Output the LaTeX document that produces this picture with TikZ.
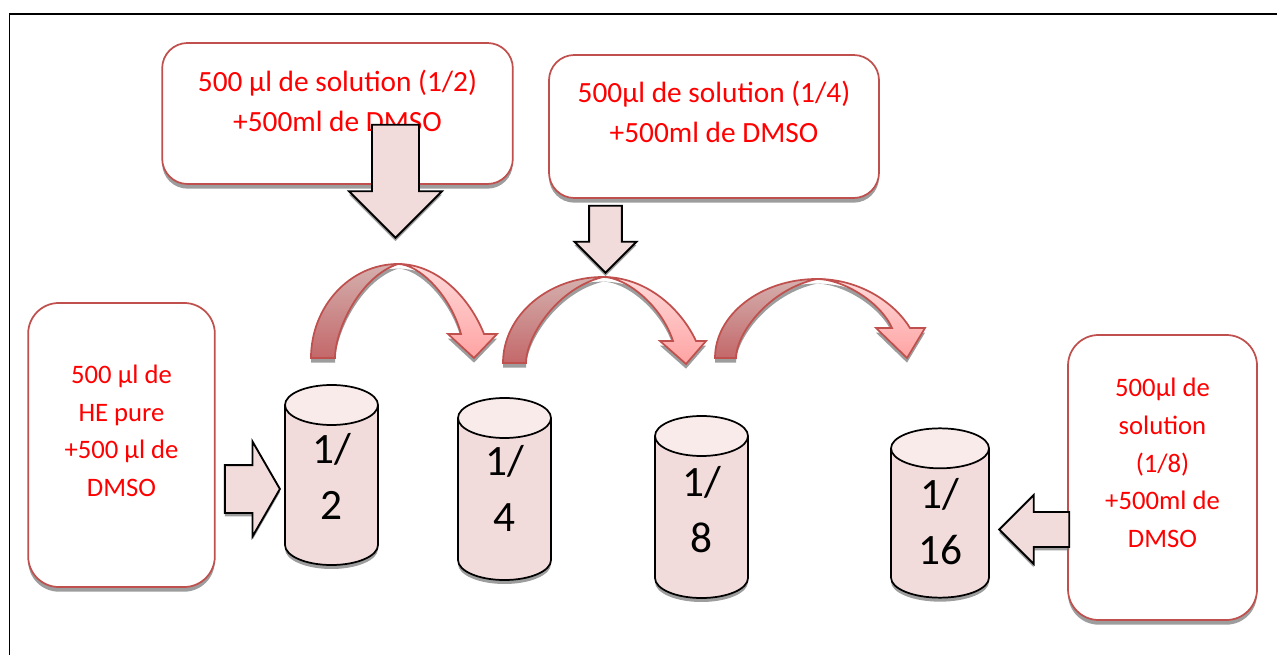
\documentclass[tikz,border=0pt]{standalone}
\usepackage{fontspec}
\setmainfont{Carlito}
\usepackage{tikz}
\usetikzlibrary{calc,positioning,shadows,shapes.geometric,shapes.arrows}
\definecolor{boxline}{HTML}{C0504D}
\definecolor{tube}{HTML}{F2DCDB}
\definecolor{tubetop}{HTML}{F8EBEA}
\definecolor{bendtop}{HTML}{D4B0AE}
\definecolor{bendfoot}{HTML}{C4686A}
\definecolor{headtop}{HTML}{FFDADA}
\definecolor{headfoot}{HTML}{FFA3A3}
\tikzstyle{box}=[
	 rectangle, draw=boxline, line width=1.3pt, fill=white,
	 inner sep=0pt,
	 drop shadow={shadow xshift=0pt,shadow yshift=-3.5pt,fill=black!55,opacity=.7}
    ]
\tikzstyle{boxtext}=[
	 text=red, align=center, inner sep=0pt,
	 font=\fontsize{22}{30}\selectfont
    ]
\tikzstyle{sidetext}=[
	 text=red, align=center, inner sep=0pt,
	 font=\fontsize{20}{28.2}\selectfont
    ]
\tikzstyle{tubeshape}=[
	 cylinder, shape border rotate=90, shape aspect=1.5,
	 inner sep=0pt, anchor=shape center, line width=1.3pt
    ]
\tikzstyle{tubenode}=[
	 tubeshape, draw=black,
	 cylinder uses custom fill, cylinder body fill=tube, cylinder end fill=tubetop
    ]
\tikzstyle{tubeshadow}=[
	 tubeshape, fill=black!55, opacity=.7
    ]
\tikzstyle{tubetext}=[
	 align=center, inner sep=0pt,
	 font=\fontsize{32.5}{42}\selectfont
    ]
\tikzstyle{blockarrow}=[
	 single arrow, draw=black, line width=1.4pt, fill=tube,
	 single arrow head indent=0pt,
	 drop shadow={shadow xshift=0pt,shadow yshift=-2.5pt,fill=black!55,opacity=.7}
    ]
\tikzstyle{bendarrow}=[
	 draw=boxline, line width=1.3pt,
	 drop shadow={shadow xshift=0pt,shadow yshift=-3.5pt,fill=black!55,opacity=.7}
    ]
% name, centre, height, width, text centre, text
\newcommand{\pTube}[6]{
  \node[tubeshadow, minimum height=#3, minimum width=#4] (#1s) at ($(#2)+(0,4)$) {\phantom{\rule{20pt}{60pt}}};
  \node[tubenode, minimum height=#3, minimum width=#4] (#1) at (#2) {\phantom{\rule{20pt}{60pt}}};
  \node[tubetext] (#1t) at (#5) {#6};
}
% apex, foot (outer, inner), shoulder (inner, left, tip, right, outer)
\newcommand{\pBend}[8]{
  \path #1 coordinate (ap) #2 coordinate (fo) #3 coordinate (fi) #4 coordinate (si) #5 coordinate (hl) #6 coordinate (tp) #7 coordinate (hr) #8 coordinate (so);
  \draw[bendarrow, top color=bendtop, bottom color=bendfoot]
    (fo) .. controls ($(fo)!.55!(fo|-ap)$) and ($(ap)!.55!(fo|-ap)$) .. (ap)
    .. controls ($(ap)!.6!(fi|-ap) + .13*(ap|-fi) - .13*(ap)$) and ($(fi)!.3!(fi|-ap)$) .. (fi) -- cycle;
  \draw[bendarrow, top color=headtop, bottom color=headfoot]
    (ap) .. controls ($(ap)!.47!(so|-ap)$) and ($(ap)!.84!(so|-ap) + .5*(ap|-so) - .5*(ap)$) .. (so)
    -- (hr) -- (tp) -- (hl) -- (si)
    .. controls ($(ap)!.83!(si|-ap) + .43*(ap|-si) - .43*(ap)$) and ($(ap)!.32!(si|-ap)$) .. (ap) -- cycle;
}
\begin{document}
\begin{tikzpicture}[x=0.75pt,y=-0.75pt]

\useasboundingbox (0,0) rectangle (1277,655);
\begin{scope}
\clip (0,0) rectangle (1277,655);
\node[draw=black, line width=1.3pt, inner sep=0pt, minimum width=965pt, minimum height=489pt, anchor=north west] (frame) at (8.5,13.5) {};
\end{scope}

\node[box, rounded corners=19pt, minimum width=263pt, minimum height=105.75pt] (boxA) at (337.5,113.5) {};
\node[box, rounded corners=19pt, minimum width=247.5pt, minimum height=107.25pt] (boxB) at (714,126.5) {};
\node[box, rounded corners=23pt, minimum width=140pt, minimum height=213pt] (boxC) at (121.5,445) {};
\node[box, rounded corners=23pt, minimum width=141.75pt, minimum height=213.75pt] (boxD) at (1162.5,477.5) {};

\node[boxtext, below=20.5pt of boxA.north] (textA) {500 µl de solution (1/2)\\+500ml de DMSO};
\node[boxtext, below=20pt of boxB.north] (textB) {500µl de solution (1/4)\\+500ml de DMSO};
\node[sidetext, below=47pt of boxC.north] (textC) {500 µl de\\HE pure\\+500 µl de\\DMSO};
\node[sidetext, below=33pt of boxD.north] (textD) {500µl de\\solution\\(1/8)\\+500ml de\\DMSO};

\pTube{tubeA}{331.5,475}{135pt}{69.75pt}{331.5,476}{1/\\2}
\pTube{tubeB}{504.5,489}{136.5pt}{69.75pt}{504.5,488}{1/\\4}
\pTube{tubeC}{701.5,507}{136.5pt}{69.75pt}{701.5,510}{1/\\8}
\pTube{tubeD}{940,513}{127pt}{73.5pt}{940,522}{1/\\16}

\node[blockarrow, shape border rotate=270, minimum height=84.75pt, inner xsep=16.9pt, inner ysep=0pt, single arrow head extend=17.25pt, single arrow tip angle=90] (arrowA) at (395.5,169.5) {};
\node[blockarrow, shape border rotate=270, minimum height=50.25pt, inner xsep=11.6pt, inner ysep=0pt, single arrow head extend=10.9pt, single arrow tip angle=90] (arrowB) at (605.5,231) {};
\node[blockarrow, minimum height=41.25pt, inner xsep=0pt, inner ysep=17.25pt, single arrow head extend=17.6pt, single arrow tip angle=120] (arrowC) at (245.5,489) {};
\node[blockarrow, shape border rotate=180, minimum height=52.5pt, inner xsep=0pt, inner ysep=12.4pt, single arrow head extend=12.75pt, single arrow tip angle=90] (arrowD) at (1043,529.5) {};

\pBend{(398,264)}{(311,358)}{(335,358)}{(461,334)}{(448,334)}{(474,358)}{(497,334)}{(484,334)}
\pBend{(603,277)}{(503,363)}{(526,363)}{(673,341)}{(660,341)}{(686,364)}{(706,341)}{(696,341)}
\pBend{(817,279)}{(715,358)}{(736,358)}{(892,328)}{(876,328)}{(907,358)}{(925,328)}{(910,328)}

\end{tikzpicture}
\end{document}
